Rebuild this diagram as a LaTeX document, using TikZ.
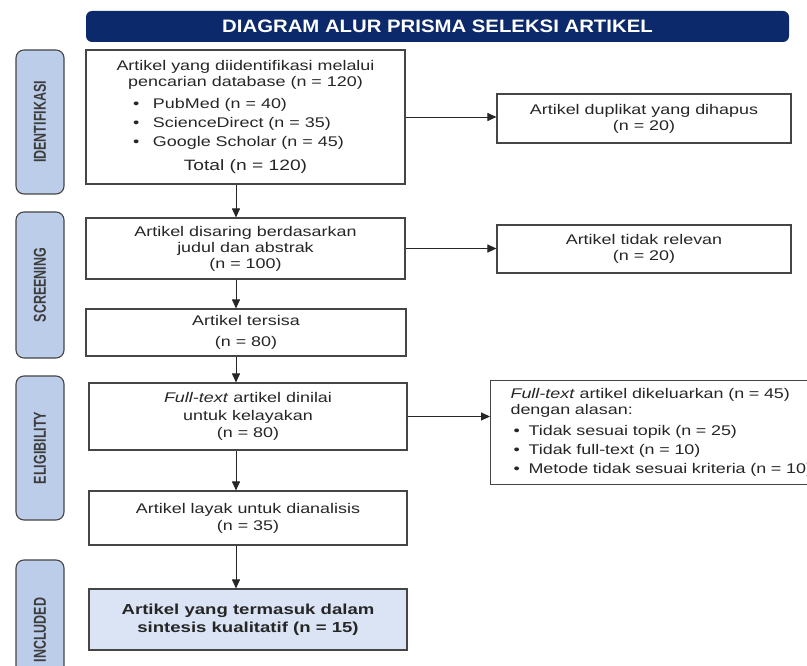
\documentclass[tikz,border=0pt]{standalone}
\usepackage{fontspec}
\setmainfont{Liberation Sans}[FakeStretch=1.28]
\newfontfamily\titlefont{Liberation Sans}[FakeStretch=1.13]
\newfontfamily\pillfont{Liberation Sans}
\usetikzlibrary{arrows.meta}
\definecolor{navy}{HTML}{0C2A6B}
\definecolor{pillblue}{HTML}{BCCDEA}
\definecolor{incblue}{HTML}{DAE4F4}
\definecolor{edge}{HTML}{454545}
\definecolor{ink}{HTML}{262626}
\newcommand\phasetext[1]{\rotatebox{90}{\scalebox{1}[1.38]{#1}}}
\newcommand\itemdot[2]{\makebox[#1][l]{•}#2}
\begin{document}
\begin{tikzpicture}[x=1pt,y=-1pt,
  box/.style={draw=edge,line width=1.1pt,fill=white,text=ink,align=center,inner sep=0pt,
    font=\fontsize{14}{16}\selectfont},
  phase/.style={draw=edge,line width=1.1pt,fill=pillblue,rounded corners=8pt,
    minimum width=48pt,inner sep=0pt,text=ink!90,font=\pillfont\bfseries\fontsize{12.5}{14}\selectfont},
  arr/.style={-{Triangle[length=9pt,width=8pt]},line width=0.9pt,draw=ink}]
\useasboundingbox (0,0) rectangle (807,666);
\clip (0,0) rectangle (807,666);
\fill[white] (0,0) rectangle (807,666);
\node[fill=navy,rounded corners=6pt,minimum width=703pt,minimum height=31pt,text=white,
  font=\titlefont\bfseries\fontsize{18}{20}\selectfont] (title) at (437.5,26.5) {DIAGRAM ALUR PRISMA SELEKSI ARTIKEL};
\node[phase,minimum height=144pt] (pid) at (40,122) {\phasetext{IDENTIFIKASI}};
\node[phase,minimum height=146pt] (pscr) at (40,285) {\phasetext{SCREENING}};
\node[phase,minimum height=144pt] (pelig) at (40,448) {\phasetext{ELIGIBILITY}};
\node[phase,minimum height=140pt] (pinc) at (40,630) {\phasetext{INCLUDED}};
\node[box,minimum width=319pt,minimum height=134pt] (idbox) at (245.5,117) {Artikel yang diidentifikasi melalui\\
  pencarian database (n = 120)\\[6pt]
  \makebox[225pt][l]{\itemdot{20pt}{PubMed (n = 40)}}\\[3pt]
  \makebox[225pt][l]{\itemdot{20pt}{ScienceDirect (n = 35)}}\\[3pt]
  \makebox[225pt][l]{\itemdot{20pt}{Google Scholar (n = 45)}}\\[8pt]
  {\fontsize{15}{16}\selectfont Total (n = 120)}};
\node[box,minimum width=319pt,minimum height=61pt] (scrbox) at (245.5,248.5) {Artikel disaring berdasarkan\\ judul dan abstrak\\ (n = 100)};
\node[box,minimum width=320pt,minimum height=47pt] (restbox) at (246,332.5) {Artikel tersisa\\[5pt] (n = 80)};
\node[box,minimum width=318pt,minimum height=67pt] (ftbox) at (248,416.5) {\textit{Full-text} artikel dinilai\\[1.5pt] untuk kelayakan\\[1.5pt] (n = 80)};
\node[box,minimum width=318pt,minimum height=54pt] (okbox) at (248,518) {Artikel layak untuk dianalisis\\[1pt] (n = 35)};
\node[box,fill=incblue,minimum width=318pt,minimum height=61pt,font=\bfseries\fontsize{14.5}{18}\selectfont] (incbox) at (248,619.5) {Artikel yang termasuk dalam\\ sintesis kualitatif (n = 15)};
\node[box,minimum width=294pt,minimum height=49pt] (dupbox) at (644,118.5) {Artikel duplikat yang dihapus\\ (n = 20)};
\node[box,minimum width=294pt,minimum height=48pt] (irrbox) at (644,249) {Artikel tidak relevan\\ (n = 20)};
\node[box,anchor=north west,minimum width=352pt,minimum height=104pt,text width=312pt,align=left,inner xsep=20pt] (exbox) at (490,380) {\textit{Full-text} artikel dikeluarkan (n = 45)\\
  dengan alasan:\\[5pt]
  \hspace*{3pt}\itemdot{15pt}{Tidak sesuai topik (n = 25)}\\[3pt]
  \hspace*{3pt}\itemdot{15pt}{Tidak full-text (n = 10)}\\[3pt]
  \hspace*{3pt}\itemdot{15pt}{Metode tidak sesuai kriteria (n = 10)}};
\coordinate (spine) at (236,0);
\draw[arr] (spine |- idbox.south) -- (spine |- scrbox.north);
\draw[arr] (spine |- scrbox.south) -- (spine |- restbox.north);
\draw[arr] (spine |- restbox.south) -- (spine |- ftbox.north);
\draw[arr] (spine |- ftbox.south) -- (spine |- okbox.north);
\draw[arr] (spine |- okbox.south) -- (spine |- incbox.north);
\draw[arr] (idbox.east) -- (dupbox.west |- idbox.east);
\draw[arr] (scrbox.east) -- (irrbox.west |- scrbox.east);
\draw[arr] (ftbox.east) -- (exbox.west |- ftbox.east);
\end{tikzpicture}
\end{document}
